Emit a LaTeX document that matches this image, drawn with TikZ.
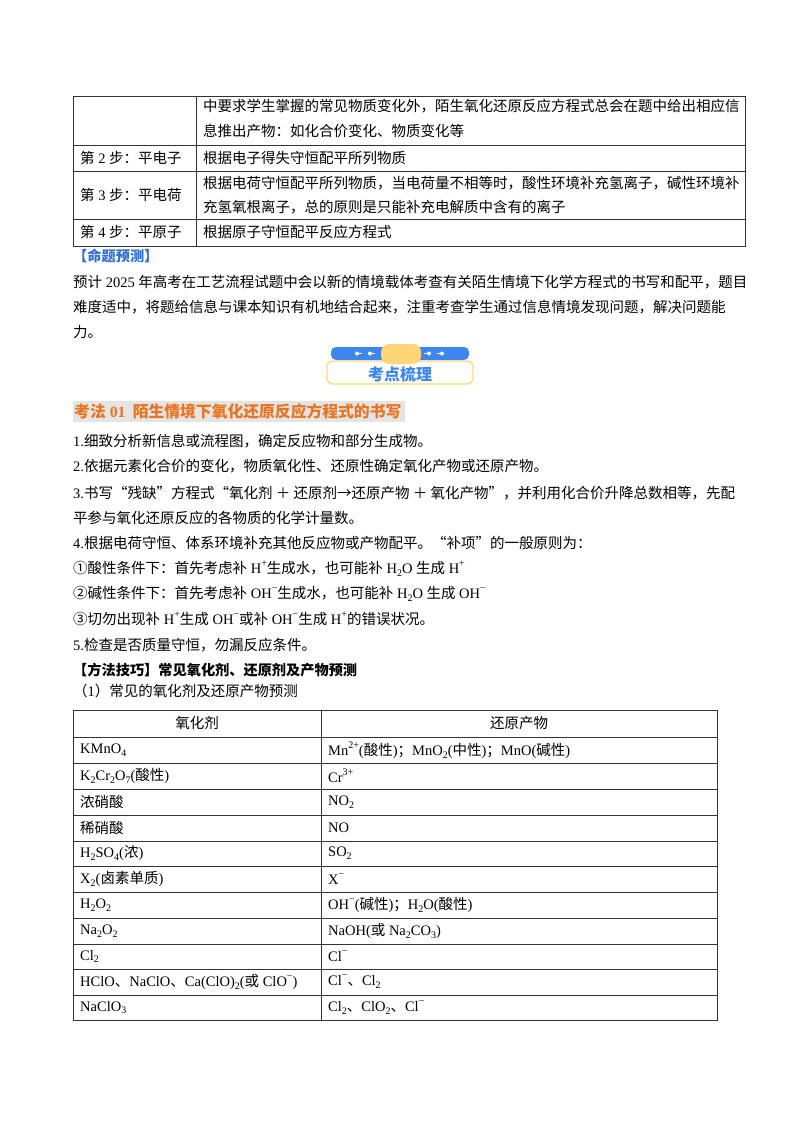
\documentclass[tikz,border=0pt]{standalone}
\usepackage{fontspec}
\setmainfont{Noto Sans CJK SC}
\newfontfamily\lat{Liberation Serif}
\newcommand\sbx[1]{\raisebox{-0.35ex}{\fontsize{10}{10}\selectfont\lat #1}}
\newcommand\spx[1]{\raisebox{0.9ex}{\fontsize{10}{10}\selectfont\lat #1}}
\newcommand\LL[1]{{\lat #1}}
\definecolor{bannerblue}{HTML}{3D86F0}
\definecolor{titleblue}{HTML}{2F6FD6}
\definecolor{pillyellow}{HTML}{FFD675}
\definecolor{headorange}{HTML}{EA7420}
\definecolor{headgrey}{HTML}{E4E4E4}
\begin{document}
\begin{tikzpicture}[x=1pt,y=-1pt,
  txt/.style={anchor=west,inner sep=0pt,font=\fontsize{14.5}{15}\selectfont},
  ctr/.style={inner sep=0pt,font=\fontsize{14.5}{15}\selectfont},
  grid/.style={draw=black!80,line width=0.8pt}]
\useasboundingbox (0,0) rectangle (800,1132);
% top table
\draw[grid] (73,96) rectangle (745,246);
\draw[grid] (196,96) -- (196,246);
\foreach \y in {145,171,219} \draw[grid] (73,\y) -- (745,\y);
\node[txt] (t1a) at (203,106) {中要求学生掌握的常见物质变化外，陌生氧化还原反应方程式总会在题中给出相应信};
\node[txt] (t1b) at (203,131) {息推出产物：如化合价变化、物质变化等};
\node[txt] (s2) at (80,158) {第\LL{ 2 }步：平电子};
\node[txt] (t2) at (203,158) {根据电子得失守恒配平所列物质};
\node[txt] (s3) at (80,195) {第\LL{ 3 }步：平电荷};
\node[txt] (t3a) at (203,183) {根据电荷守恒配平所列物质，当电荷量不相等时，酸性环境补充氢离子，碱性环境补};
\node[txt] (t3b) at (203,207) {充氢氧根离子，总的原则是只能补充电解质中含有的离子};
\node[txt] (s4) at (80,232) {第\LL{ 4 }步：平原子};
\node[txt] (t4) at (203,232) {根据原子守恒配平反应方程式};
\node[txt,text=titleblue,font=\fontsize{14.2}{15}\selectfont\bfseries] (mt) at (73,256) {【命题预测】};
\node[txt] (p1) at (73,282) {预计\LL{ 2025 }年高考在工艺流程试题中会以新的情境载体考查有关陌生情境下化学方程式的书写和配平，题目};
\node[txt] (p2) at (73,307) {难度适中，将题给信息与课本知识有机地结合起来，注重考查学生通过信息情境发现问题，解决问题能};
\node[txt] (p3) at (73,332) {力。};
% banner
\fill[bannerblue,rounded corners=5pt] (331,347) rectangle (469,360);
\foreach \x in {358,371} {\draw[white,line width=1pt] (\x-3,353.5)--(\x+4,353.5); \fill[white] (\x-1,353.5) circle (2pt);}
\foreach \x in {428,441} {\draw[white,line width=1pt] (\x-4,353.5)--(\x+3,353.5); \fill[white] (\x+1,353.5) circle (2pt);}
\draw[pillyellow,fill=white,line width=1.2pt,rounded corners=6pt] (327,361) rectangle (473,384);
\fill[pillyellow,rounded corners=8pt] (381,344) rectangle (421,364);
\node[ctr,text=bannerblue,font=\fontsize{16}{17}\selectfont\bfseries] (bn) at (400,374) {考点梳理};
% heading
\fill[headgrey] (73,401) rectangle (405,422);
\node[txt,text=headorange,font=\fontsize{15.8}{16}\selectfont\bfseries] (hd) at (74,411.5) {考法\LL{\bfseries{} 01} \ 陌生情境下氧化还原反应方程式的书写};
\node[txt] (b1) at (73,441) {\LL{1.}细致分析新信息或流程图，确定反应物和部分生成物。};
\node[txt] (b2) at (73,466) {\LL{2.}依据元素化合价的变化，物质氧化性、还原性确定氧化产物或还原产物。};
\node[txt] (b3a) at (73,493) {\LL{3.}书写“残缺”方程式“氧化剂 ＋ 还原剂→还原产物 ＋ 氧化产物”，并利用化合价升降总数相等，先配};
\node[txt] (b3b) at (73,518) {平参与氧化还原反应的各物质的化学计量数。};
\node[txt] (b4) at (73,543) {\LL{4.}根据电荷守恒、体系环境补充其他反应物或产物配平。“补项”的一般原则为：};
\node[txt] (c1) at (73,569) {①酸性条件下：首先考虑补\LL{ H}\spx{+}生成水，也可能补\LL{ H}\sbx{2}\LL{O }生成\LL{ H}\spx{+}};
\node[txt] (c2) at (73,594) {②碱性条件下：首先考虑补\LL{ OH}\spx{−}生成水，也可能补\LL{ H}\sbx{2}\LL{O }生成\LL{ OH}\spx{−}};
\node[txt] (c3) at (73,619) {③切勿出现补\LL{ H}\spx{+}生成\LL{ OH}\spx{−}或补\LL{ OH}\spx{−}生成\LL{ H}\spx{+}的错误状况。};
\node[txt] (b5) at (73,645) {\LL{5.}检查是否质量守恒，勿漏反应条件。};
\node[txt,font=\fontsize{14.2}{15}\selectfont\bfseries] (ff) at (73,670) {【方法技巧】常见氧化剂、还原剂及产物预测};
\node[txt] (sub1) at (73,691) {（\LL{1}）常见的氧化剂及还原产物预测};
% bottom table
\draw[grid] (73,710) rectangle (717,1020);
\draw[grid] (321,710) -- (321,1020);
\foreach \y in {737,763,789,815,841,866,892,918,944,969,995} \draw[grid] (73,\y) -- (717,\y);
\node[ctr] (h1) at (197,723) {氧化剂};
\node[ctr] (h2) at (519,723) {还原产物};
\node[txt] (r1a) at (80,750) {\LL{KMnO}\sbx{4}};
\node[txt] (r1b) at (328,750) {\LL{Mn}\spx{2+}\LL{(}酸性\LL{)}；\LL{MnO}\sbx{2}\LL{(}中性\LL{)}；\LL{MnO(}碱性\LL{)}};
\node[txt] (r2a) at (80,776) {\LL{K}\sbx{2}\LL{Cr}\sbx{2}\LL{O}\sbx{7}\LL{(}酸性\LL{)}};
\node[txt] (r2b) at (328,776) {\LL{Cr}\spx{3+}};
\node[txt] (r3a) at (80,802) {浓硝酸};
\node[txt] (r3b) at (328,802) {\LL{NO}\sbx{2}};
\node[txt] (r4a) at (80,828) {稀硝酸};
\node[txt] (r4b) at (328,828) {\LL{NO}};
\node[txt] (r5a) at (80,853.5) {\LL{H}\sbx{2}\LL{SO}\sbx{4}\LL{(}浓\LL{)}};
\node[txt] (r5b) at (328,853.5) {\LL{SO}\sbx{2}};
\node[txt] (r6a) at (80,879) {\LL{X}\sbx{2}\LL{(}卤素单质\LL{)}};
\node[txt] (r6b) at (328,879) {\LL{X}\spx{−}};
\node[txt] (r7a) at (80,905) {\LL{H}\sbx{2}\LL{O}\sbx{2}};
\node[txt] (r7b) at (328,905) {\LL{OH}\spx{−}\LL{(}碱性\LL{)}；\LL{H}\sbx{2}\LL{O(}酸性\LL{)}};
\node[txt] (r8a) at (80,931) {\LL{Na}\sbx{2}\LL{O}\sbx{2}};
\node[txt] (r8b) at (328,931) {\LL{NaOH(}或\LL{ Na}\sbx{2}\LL{CO}\sbx{3}\LL{)}};
\node[txt] (r9a) at (80,956.5) {\LL{Cl}\sbx{2}};
\node[txt] (r9b) at (328,956.5) {\LL{Cl}\spx{−}};
\node[txt] (r10a) at (80,982) {\LL{HClO}、\LL{NaClO}、\LL{Ca(ClO)}\sbx{2}\LL{(}或\LL{ ClO}\spx{−}\LL{)}};
\node[txt] (r10b) at (328,982) {\LL{Cl}\spx{−}、\LL{Cl}\sbx{2}};
\node[txt] (r11a) at (80,1007.5) {\LL{NaClO}\sbx{3}};
\node[txt] (r11b) at (328,1007.5) {\LL{Cl}\sbx{2}、\LL{ClO}\sbx{2}、\LL{Cl}\spx{−}};
\end{tikzpicture}
\end{document}
